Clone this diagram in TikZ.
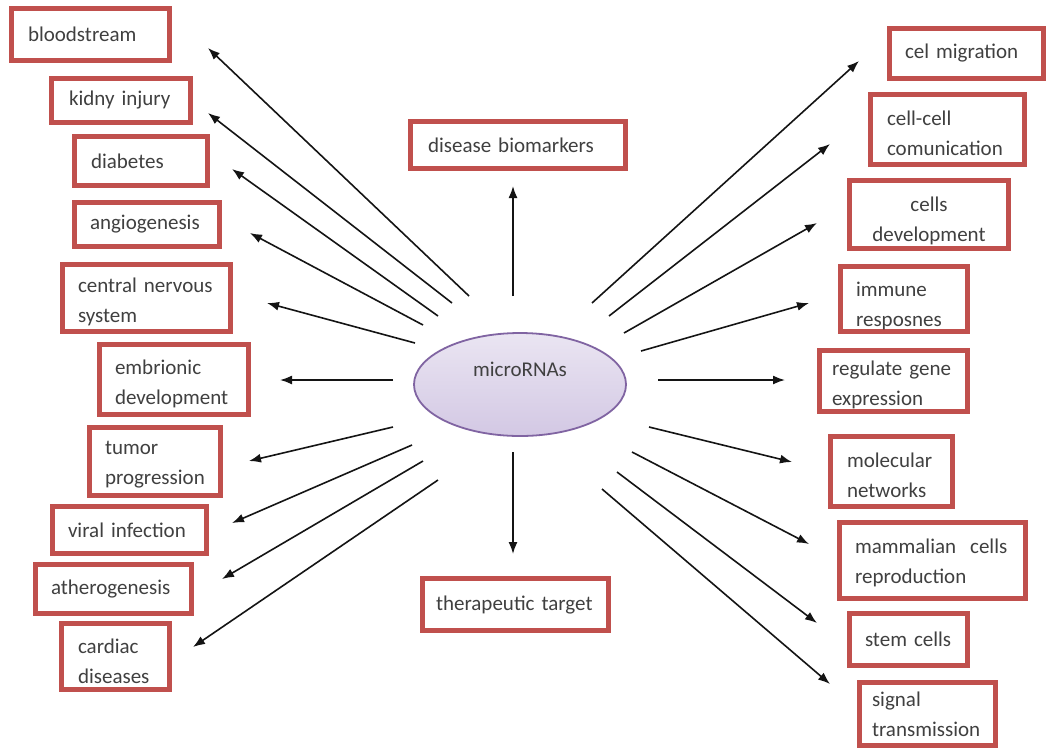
\documentclass[tikz,border=0pt]{standalone}
\usepackage{fontspec}
\setmainfont{Carlito}
\usetikzlibrary{arrows.meta,shapes.geometric,calc}
\definecolor{boxred}{HTML}{C0504D}
\definecolor{txtgray}{HTML}{404040}
\definecolor{ellborder}{HTML}{8064A2}
\definecolor{elltop}{HTML}{EAE5F2}
\definecolor{ellbot}{HTML}{D3C8E4}
\tikzset{
  rbox/.style={draw=boxred, line width=5pt, fill=white, rectangle, text=txtgray,
    font=\fontsize{21}{30}\selectfont, inner ysep=0pt, outer sep=0pt},
  lbl/.style={text=txtgray, font=\fontsize{21}{30}\selectfont, inner sep=0pt},
  ell/.style={ellipse, draw=ellborder, line width=1.8pt, top color=elltop, bottom color=ellbot},
  arr/.style={line width=1.6pt, draw=black!92, -{Latex[length=12pt,width=9pt]}}
}
% push a text block down: extra height on the first line
\newcommand{\dn}[1]{\rule{0pt}{\dimexpr\fontcharht\font`l+#1pt\relax}}
% #1 name, #2 x1, #3 y1, #4 x2, #5 y2 (outer pixel box), #6 text start x, #7 align, #8 text
\newcommand{\mybox}[8]{%
  \pgfmathsetmacro{\bw}{#4-#2-5}%
  \pgfmathsetmacro{\bh}{#5-#3-5}%
  \pgfmathsetmacro{\bxs}{#6-#2-2.5}%
  \pgfmathsetmacro{\btw}{\bw-2*\bxs}%
  \node[rbox, minimum width=\bw pt, minimum height=\bh pt, inner xsep=\bxs pt,
        text width=\btw pt, align=#7] (#1) at ({(#2+#4)/2},{(#3+#5)/2}) {#8};%
}
\begin{document}
\begin{tikzpicture}[x=1pt,y=-1pt]
\useasboundingbox[fill=white] (0,0) rectangle (1048,748);

% left boxes
\mybox{bl}{9}{6}{172}{63}{28}{left}{bloodstream}
\mybox{ki}{49}{76}{193}{125}{69}{left}{kidny injury}
\mybox{di}{72}{134}{210}{188}{91}{left}{diabetes}
\mybox{an}{72}{200}{222}{249}{90}{left}{angiogenesis}
\mybox{cn}{60}{262}{233}{334}{78}{left}{\dn{8}central nervous\\system}
\mybox{em}{97}{342}{251}{417}{115}{left}{\dn{8}embrionic\\development}
\mybox{tu}{87}{425}{223}{498}{105}{left}{\dn{6}tumor\\progression}
\mybox{vi}{50}{504}{209}{556}{68}{left}{viral infection}
\mybox{at}{33}{562}{194}{616}{51}{left}{atherogenesis}
\mybox{ca}{59}{621}{172}{692}{78}{left}{\dn{10}cardiac\\diseases}

% center boxes
\mybox{db}{408}{119}{628}{171}{428}{left}{disease biomarkers}
\mybox{tt}{420}{576}{611}{633}{436}{left}{therapeutic target}

% right boxes
\mybox{cm}{887}{26}{1046}{81}{905}{left}{cel migration}
\mybox{cc}{868}{92}{1027}{167}{887}{left}{\dn{8}cell-cell\\comunication}
\mybox{cd}{847}{178}{1011}{251}{865}{center}{\dn{12}cells\\development}
\mybox{ir}{838}{264}{970}{334}{856}{left}{\dn{14}immune\\resposnes}
\mybox{rg}{817}{348}{970}{414}{832}{left}{\dn{8}regulate gene\\expression}
\mybox{mn}{828}{434}{955}{509}{847}{left}{\dn{8}molecular\\networks}
\mybox{mc}{837}{520}{1028}{601}{855}{left}{\dn{4}mammalian\ \ cells\\reproduction}
\mybox{sc}{847}{611}{970}{668}{865}{left}{stem cells}
\mybox{st}{857}{680}{998}{748}{872}{left}{signal\\transmission}

% central ellipse
\node[ell, minimum width=212pt, minimum height=103pt] (m) at (520,384.5) {};
\node[lbl] (mt) at (520,369) {microRNAs};

% arrow coordinates (start, end)
\coordinate (s1) at (469,296);  \coordinate (e1) at (208,48);
\coordinate (s2) at (452,303);  \coordinate (e2) at (208,113);
\coordinate (s3) at (438,316);  \coordinate (e3) at (232,169);
\coordinate (s4) at (423,325);  \coordinate (e4) at (250,233);
\coordinate (s5) at (415,343);  \coordinate (e5) at (267,303);
\coordinate (s6) at (393,380);  \coordinate (e6) at (280,380);
\coordinate (s7) at (393,427);  \coordinate (e7) at (249,461);
\coordinate (s8) at (412,445);  \coordinate (e8) at (232,523);
\coordinate (s9) at (423,461);  \coordinate (e9) at (222,579);
\coordinate (s10) at (438,480); \coordinate (e10) at (193,647);

\coordinate (su) at (513,296);  \coordinate (eu) at (513,186);
\coordinate (sd) at (513,452);  \coordinate (ed) at (513,554);

\coordinate (r1) at (592,303);  \coordinate (f1) at (859,61);
\coordinate (r2) at (609,316);  \coordinate (f2) at (830,144);
\coordinate (r3) at (624,333);  \coordinate (f3) at (817,223);
\coordinate (r4) at (641,351);  \coordinate (f4) at (809,303);
\coordinate (r5) at (658,380);  \coordinate (f5) at (785,380);
\coordinate (r6) at (649,427);  \coordinate (f6) at (792,462);
\coordinate (r7) at (632,452);  \coordinate (f7) at (809,544);
\coordinate (r8) at (617,472);  \coordinate (f8) at (817,623);
\coordinate (r9) at (602,489);  \coordinate (f9) at (830,684);

\foreach \i in {1,...,10} {\draw[arr] (s\i) -- (e\i);}
\draw[arr] (su) -- (eu);
\draw[arr] (sd) -- (ed);
\foreach \i in {1,...,9} {\draw[arr] (r\i) -- (f\i);}
\end{tikzpicture}
\end{document}
